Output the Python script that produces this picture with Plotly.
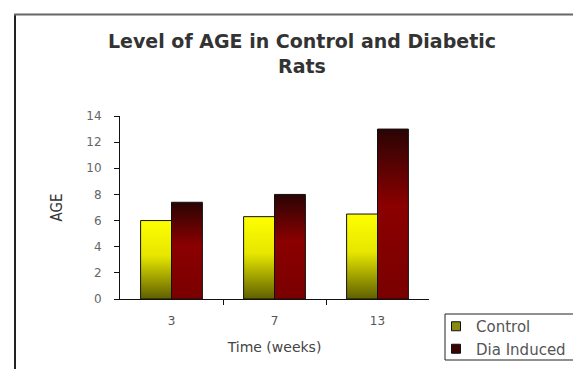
import plotly.graph_objects as go

categories = ["3", "7", "13"]
control = [6.0, 6.3, 6.5]
dia_induced = [7.4, 8.0, 13.0]
series_names = ["Control", "Dia Induced"]
y_ticks = [0, 2, 4, 6, 8, 10, 12, 14]

BAR_W = 0.3
styles = {
    "Control": dict(scale=[[0, "#5f5f00"], [0.55, "#e6e600"], [1, "#ffff00"]], legend="#8a8a10", offset=-BAR_W),
    "Dia Induced": dict(scale=[[0, "#7a0000"], [0.55, "#8b0000"], [1, "#2a0404"]], legend="#3a0505", offset=0.0),
}

fig = go.Figure()
for name, vals in zip(series_names, [control, dia_induced]):
    st = styles[name]
    for i, v in enumerate(vals):
        x0 = i + st["offset"]
        x1 = x0 + BAR_W
        fig.add_trace(go.Scatter(
            x=[x0, x0, x1, x1, x0], y=[0, v, v, 0, 0],
            mode="lines", fill="toself",
            line=dict(color="#111111", width=1),
            fillgradient=dict(type="vertical", colorscale=st["scale"], start=0, stop=v),
            name=name, legendgroup=name, showlegend=False, hoverinfo="skip",
        ))
    fig.add_trace(go.Scatter(
        x=[None], y=[None], mode="markers",
        marker=dict(symbol="square", size=9, color=st["legend"], line=dict(color="#111", width=1)),
        name=name, legendgroup=name, showlegend=True,
    ))

# page has an 8px body margin; the figure is sized to fill the rest of the window
OFF = 8
W, H = 581 - OFF, 369 - OFF
L, T = 120 - OFF, 116 - OFF
R = W - (429 - OFF)
B = H - (299 - OFF)
pw, ph = W - L - R, H - T - B

def px(x):
    return (x - OFF - L) / pw

def py(y):
    return (H - B - (y - OFF)) / ph

fig.update_layout(
    width=W, height=H,
    margin=dict(l=L, r=R, t=T, b=B, autoexpand=False),
    paper_bgcolor="white", plot_bgcolor="white",
    font=dict(family="DejaVu Sans", color="#555555", size=12),
    title=dict(
        text="Level of AGE in Control and Diabetic<br>Rats",
        x=(302 - OFF) / W, xref="container", xanchor="center",
        y=1 - 40 / H, yref="container", yanchor="top",
        font=dict(family="DejaVu Sans", size=19, color="#333333", weight="bold"),
    ),
    xaxis=dict(
        range=[-0.5, 2.5], tickvals=[0, 1, 2], ticktext=categories,
        ticks="", showgrid=False, zeroline=False,
        showline=True, linecolor="#111111", linewidth=1,
        minor=dict(tickvals=[0.5, 1.5], ticks="outside", ticklen=5, tickcolor="#111111", showgrid=False),
        title=dict(text="Time (weeks)", font=dict(size=14, color="#444444"), standoff=14),
        tickfont=dict(size=12, color="#555555"),
        ticklabelstandoff=11,
    ),
    yaxis=dict(
        range=[0, 14], tickvals=y_ticks, ticks="outside", ticklen=5, tickcolor="#111111",
        showgrid=False, zeroline=False,
        showline=True, linecolor="#111111", linewidth=1,
        title=dict(text="AGE", font=dict(family="DejaVu Sans Condensed", size=15, color="#333333"), standoff=20),
        tickfont=dict(size=12, color="#666666"),
        ticklabelstandoff=10,
    ),
    legend=dict(
        x=(436 - OFF) / W, y=1 - (310 - OFF) / H, xref="container", yref="container",
        xanchor="left", yanchor="top",
        borderwidth=0, bgcolor="rgba(0,0,0,0)",
        font=dict(size=15, color="#555555"),
        itemwidth=30, tracegroupgap=0,
    ),
    showlegend=True,
    shapes=[
        dict(type="line", xref="paper", yref="paper", x0=px(15), x1=px(15), y0=py(14), y1=py(380),
             line=dict(color="#222222", width=2)),
        dict(type="line", xref="paper", yref="paper", x0=px(14), x1=px(600), y0=py(14.5), y1=py(14.5),
             line=dict(color="#666666", width=2)),
        dict(type="rect", xref="paper", yref="paper", x0=px(445), x1=px(575), y0=py(314), y1=py(360),
             line=dict(color="#222222", width=1), fillcolor="rgba(0,0,0,0)"),
    ],
)

fig.write_html("out.html")
